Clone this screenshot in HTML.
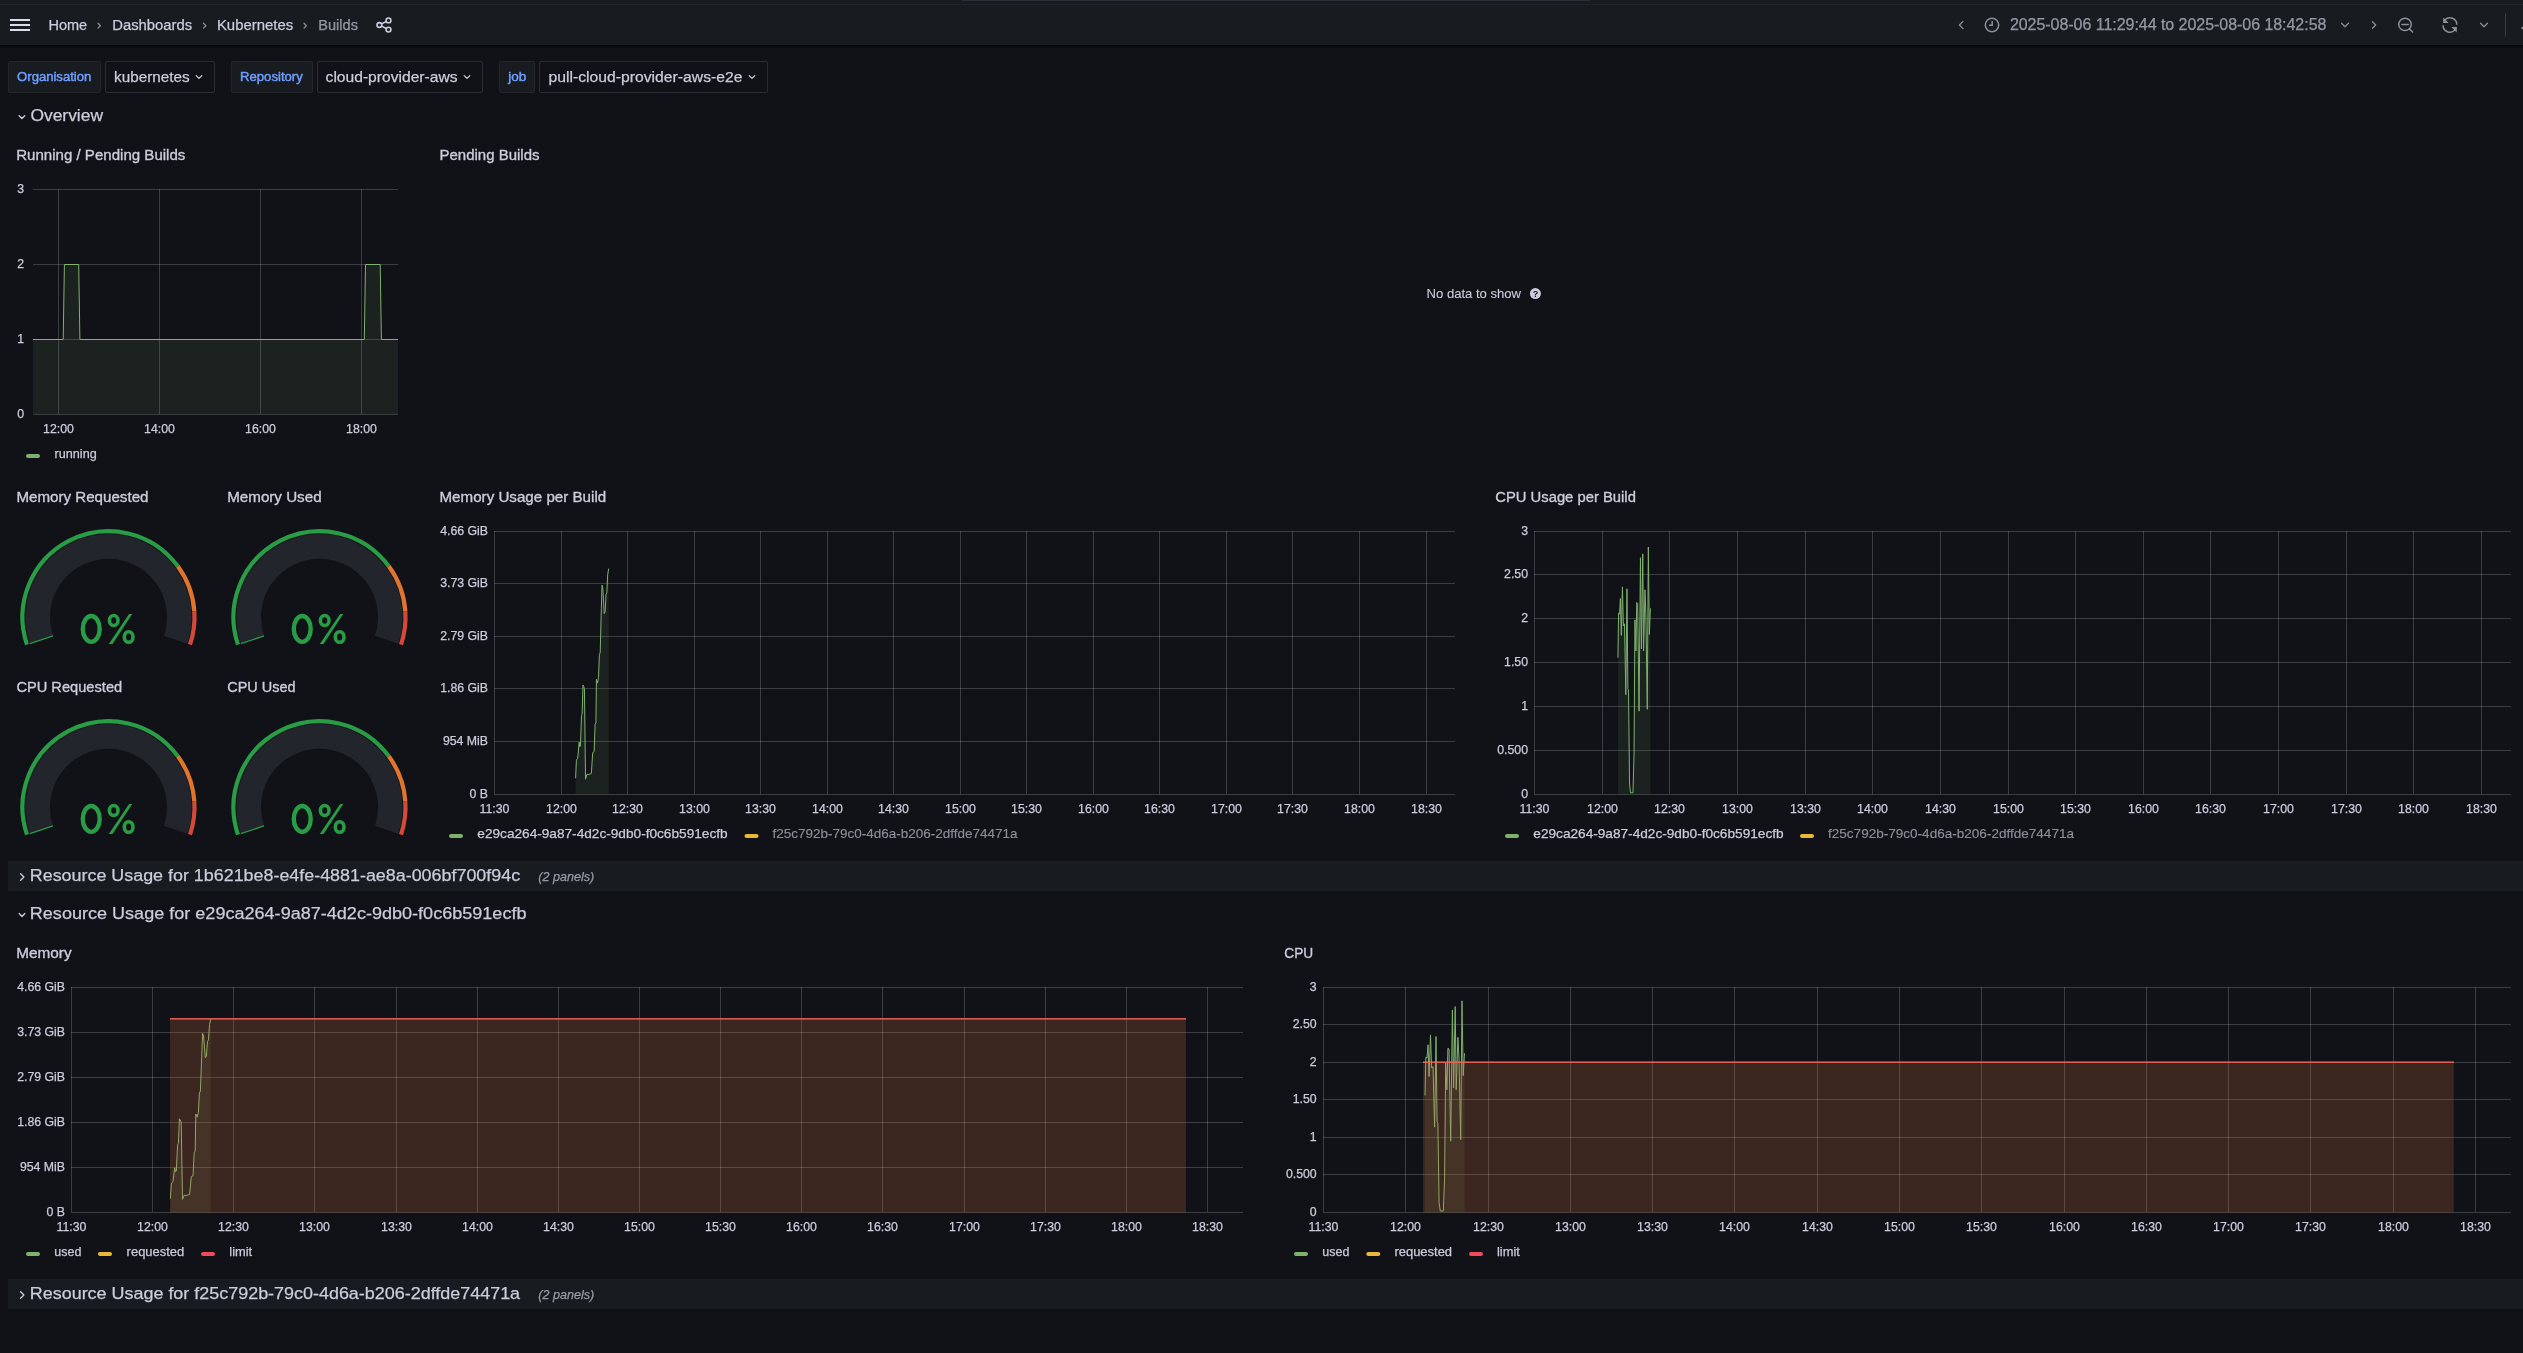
<!DOCTYPE html>
<html><head><meta charset="utf-8"><title>Builds - Grafana</title>
<style>
html,body{margin:0;padding:0;background:#111217;width:2523px;height:1353px;overflow:hidden}
svg{display:block;font-family:"Liberation Sans", sans-serif;will-change:transform}
</style></head><body>
<svg width="2523" height="1353" viewBox="0 0 2523 1353">
<rect x="0" y="0" width="2523" height="45" fill="#181b1f"/>
<rect x="0" y="4" width="2523" height="1" fill="#22252b"/>
<rect x="962" y="0" width="628" height="1" fill="#2c2e38"/>
<rect x="0" y="45" width="2523" height="1" fill="#060709"/>
<rect x="0" y="46" width="2523" height="1" fill="#0a0b0e"/>
<rect x="0" y="47" width="2523" height="1" fill="#0e0f13"/>
<rect x="10" y="19" width="20" height="2" fill="#dcdcea"/>
<rect x="10" y="24" width="20" height="2" fill="#dcdcea"/>
<rect x="10" y="29" width="20" height="2" fill="#dcdcea"/>
<text x="48.4" y="30" font-size="14.9" fill="#ccccdc" text-anchor="start" font-weight="normal" font-style="normal" stroke="#ccccdc" stroke-width="0.25" textLength="38.8" lengthAdjust="spacingAndGlyphs">Home</text>
<text x="112.2" y="30" font-size="14.9" fill="#ccccdc" text-anchor="start" font-weight="normal" font-style="normal" stroke="#ccccdc" stroke-width="0.25" textLength="80" lengthAdjust="spacingAndGlyphs">Dashboards</text>
<text x="216.9" y="30" font-size="14.9" fill="#ccccdc" text-anchor="start" font-weight="normal" font-style="normal" stroke="#ccccdc" stroke-width="0.25" textLength="76.4" lengthAdjust="spacingAndGlyphs">Kubernetes</text>
<text x="318.3" y="30" font-size="14.9" fill="rgba(204,204,220,0.65)" text-anchor="start" font-weight="normal" font-style="normal" stroke="rgba(204,204,220,0.65)" stroke-width="0.25" textLength="39.7" lengthAdjust="spacingAndGlyphs">Builds</text>
<path d="M98 23.3 L100.4 25.7 L98 28.099999999999998" fill="none" stroke="rgba(204,204,220,0.65)" stroke-width="1.3" stroke-linecap="round" stroke-linejoin="round"/>
<path d="M203.5 23.3 L205.9 25.7 L203.5 28.099999999999998" fill="none" stroke="rgba(204,204,220,0.65)" stroke-width="1.3" stroke-linecap="round" stroke-linejoin="round"/>
<path d="M304 23.3 L306.4 25.7 L304 28.099999999999998" fill="none" stroke="rgba(204,204,220,0.65)" stroke-width="1.3" stroke-linecap="round" stroke-linejoin="round"/>
<g fill="none" stroke="#ccccdc" stroke-width="1.6"><circle cx="388.5" cy="20.4" r="2.4"/><circle cx="379.4" cy="25" r="2.4"/><circle cx="388.5" cy="29.6" r="2.4"/><path d="M381.6 23.9 L386.3 21.5 M381.6 26.1 L386.3 28.5"/></g>
<path d="M1963.0 21.4 L1959.4 25 L1963.0 28.6" fill="none" stroke="rgba(204,204,220,0.65)" stroke-width="1.3" stroke-linecap="round" stroke-linejoin="round"/>
<g fill="none" stroke="rgba(204,204,220,0.65)" stroke-width="1.5"><circle cx="1992" cy="25" r="6.7"/><path d="M1992.2 21 V25.2 H1989"/></g>
<text x="2009.9" y="30" font-size="16" fill="rgba(204,204,220,0.65)" text-anchor="start" font-weight="normal" font-style="normal" stroke="rgba(204,204,220,0.65)" stroke-width="0.25" textLength="316.5" lengthAdjust="spacing">2025-08-06 11:29:44 to 2025-08-06 18:42:58</text>
<path d="M2341.5 23.25 L2345 26.75 L2348.5 23.25" fill="none" stroke="rgba(204,204,220,0.65)" stroke-width="1.3" stroke-linecap="round" stroke-linejoin="round"/>
<path d="M2372.5 21.8 L2375.7 25 L2372.5 28.2" fill="none" stroke="rgba(204,204,220,0.65)" stroke-width="1.3" stroke-linecap="round" stroke-linejoin="round"/>
<g fill="none" stroke="rgba(204,204,220,0.65)" stroke-width="1.5"><circle cx="2405" cy="24.4" r="6.2"/><path d="M2402 24.4 H2408.4 M2409.6 29 L2412.6 32" stroke-linecap="round"/></g>
<g fill="none" stroke="rgba(204,204,220,0.65)" stroke-width="1.5"><path d="M2456.8 24.7 A6.9 6.9 0 0 0 2445 19.8 M2443.1 25.2 A6.9 6.9 0 0 0 2455 30.1"/></g><path d="M2443.2 17.4 V22.9 H2448.7 Z M2456.8 32.6 V27.1 H2451.3 Z" fill="rgba(204,204,220,0.65)"/>
<path d="M2480.5 23.25 L2484 26.75 L2487.5 23.25" fill="none" stroke="rgba(204,204,220,0.65)" stroke-width="1.3" stroke-linecap="round" stroke-linejoin="round"/>
<rect x="2505" y="13.5" width="1" height="23" fill="rgba(204,204,220,0.2)"/>
<circle cx="2522.5" cy="28" r="1.2" fill="rgba(204,204,220,0.65)"/>
<rect x="8.5" y="61.5" width="92" height="31" rx="1.5" fill="#181b1f" stroke="rgba(204,204,220,0.09)"/>
<text x="17.1" y="81" font-size="12.6" fill="#6e9fff" text-anchor="start" font-weight="normal" font-style="normal" stroke="#6e9fff" stroke-width="0.45" textLength="74.2" lengthAdjust="spacingAndGlyphs">Organisation</text>
<rect x="105.5" y="61.5" width="109" height="31" rx="1.5" fill="#111217" stroke="rgba(204,204,220,0.15)"/>
<text x="114.1" y="82" font-size="15.3" fill="#ccccdc" text-anchor="start" font-weight="normal" font-style="normal" stroke="#ccccdc" stroke-width="0.25" textLength="75.5" lengthAdjust="spacingAndGlyphs">kubernetes</text>
<path d="M196.2 75.6 L199 78.4 L201.8 75.6" fill="none" stroke="#ccccdc" stroke-width="1.3" stroke-linecap="round" stroke-linejoin="round"/>
<rect x="231.5" y="61.5" width="81" height="31" rx="1.5" fill="#181b1f" stroke="rgba(204,204,220,0.09)"/>
<text x="240" y="81" font-size="12.6" fill="#6e9fff" text-anchor="start" font-weight="normal" font-style="normal" stroke="#6e9fff" stroke-width="0.45" textLength="62.8" lengthAdjust="spacingAndGlyphs">Repository</text>
<rect x="317.5" y="61.5" width="165" height="31" rx="1.5" fill="#111217" stroke="rgba(204,204,220,0.15)"/>
<text x="325.6" y="82" font-size="15.3" fill="#ccccdc" text-anchor="start" font-weight="normal" font-style="normal" stroke="#ccccdc" stroke-width="0.25" textLength="131.9" lengthAdjust="spacingAndGlyphs">cloud-provider-aws</text>
<path d="M464.2 75.6 L467 78.4 L469.8 75.6" fill="none" stroke="#ccccdc" stroke-width="1.3" stroke-linecap="round" stroke-linejoin="round"/>
<rect x="499.5" y="61.5" width="35" height="31" rx="1.5" fill="#181b1f" stroke="rgba(204,204,220,0.09)"/>
<text x="508.2" y="81" font-size="12.6" fill="#6e9fff" text-anchor="start" font-weight="normal" font-style="normal" stroke="#6e9fff" stroke-width="0.45" textLength="18.1" lengthAdjust="spacingAndGlyphs">job</text>
<rect x="539.5" y="61.5" width="228" height="31" rx="1.5" fill="#111217" stroke="rgba(204,204,220,0.15)"/>
<text x="548.5" y="82" font-size="15.3" fill="#ccccdc" text-anchor="start" font-weight="normal" font-style="normal" stroke="#ccccdc" stroke-width="0.25" textLength="194" lengthAdjust="spacingAndGlyphs">pull-cloud-provider-aws-e2e</text>
<path d="M749.2 75.6 L752 78.4 L754.8 75.6" fill="none" stroke="#ccccdc" stroke-width="1.3" stroke-linecap="round" stroke-linejoin="round"/>
<path d="M19.099999999999998 115.8 L21.9 118.60000000000001 L24.7 115.8" fill="none" stroke="#ccccdc" stroke-width="1.4" stroke-linecap="round" stroke-linejoin="round"/>
<text x="30.4" y="121.4" font-size="17.2" fill="#ccccdc" text-anchor="start" font-weight="normal" font-style="normal" stroke="#ccccdc" stroke-width="0.25" textLength="72.6" lengthAdjust="spacingAndGlyphs">Overview</text>
<rect x="8" y="861" width="2515" height="30" fill="#181b1f"/>
<path d="M20.6 873.7 L23.900000000000002 877 L20.6 880.3" fill="none" stroke="#ccccdc" stroke-width="1.3" stroke-linecap="round" stroke-linejoin="round"/>
<text x="29.8" y="881" font-size="17.2" fill="#ccccdc" text-anchor="start" font-weight="normal" font-style="normal" stroke="#ccccdc" stroke-width="0.25" textLength="490.3" lengthAdjust="spacingAndGlyphs">Resource Usage for 1b621be8-e4fe-4881-ae8a-006bf700f94c</text>
<text x="538.3" y="881" font-size="12.6" fill="rgba(204,204,220,0.65)" text-anchor="start" font-weight="normal" font-style="italic" stroke="rgba(204,204,220,0.65)" stroke-width="0.25" >(2 panels)</text>
<path d="M19.2 913.6 L22 916.4 L24.8 913.6" fill="none" stroke="#ccccdc" stroke-width="1.4" stroke-linecap="round" stroke-linejoin="round"/>
<text x="29.8" y="919" font-size="17.2" fill="#ccccdc" text-anchor="start" font-weight="normal" font-style="normal" stroke="#ccccdc" stroke-width="0.25" textLength="496.7" lengthAdjust="spacingAndGlyphs">Resource Usage for e29ca264-9a87-4d2c-9db0-f0c6b591ecfb</text>
<rect x="8" y="1279" width="2515" height="30" fill="#181b1f"/>
<path d="M20.6 1291.7 L23.900000000000002 1295 L20.6 1298.3" fill="none" stroke="#ccccdc" stroke-width="1.3" stroke-linecap="round" stroke-linejoin="round"/>
<text x="29.8" y="1299" font-size="17.2" fill="#ccccdc" text-anchor="start" font-weight="normal" font-style="normal" stroke="#ccccdc" stroke-width="0.25" textLength="490.3" lengthAdjust="spacingAndGlyphs">Resource Usage for f25c792b-79c0-4d6a-b206-2dffde74471a</text>
<text x="538.3" y="1299" font-size="12.6" fill="rgba(204,204,220,0.65)" text-anchor="start" font-weight="normal" font-style="italic" stroke="rgba(204,204,220,0.65)" stroke-width="0.25" >(2 panels)</text>
<text x="16.2" y="160" font-size="15.1" fill="#ccccdc" text-anchor="start" font-weight="normal" font-style="normal" stroke="#ccccdc" stroke-width="0.35" textLength="169.2" lengthAdjust="spacingAndGlyphs">Running / Pending Builds</text>
<text x="439.5" y="160" font-size="15.1" fill="#ccccdc" text-anchor="start" font-weight="normal" font-style="normal" stroke="#ccccdc" stroke-width="0.35" textLength="100" lengthAdjust="spacingAndGlyphs">Pending Builds</text>
<text x="16.4" y="502" font-size="15.1" fill="#ccccdc" text-anchor="start" font-weight="normal" font-style="normal" stroke="#ccccdc" stroke-width="0.35" textLength="132.1" lengthAdjust="spacingAndGlyphs">Memory Requested</text>
<text x="227.2" y="502" font-size="15.1" fill="#ccccdc" text-anchor="start" font-weight="normal" font-style="normal" stroke="#ccccdc" stroke-width="0.35" textLength="94.4" lengthAdjust="spacingAndGlyphs">Memory Used</text>
<text x="16.4" y="692" font-size="15.1" fill="#ccccdc" text-anchor="start" font-weight="normal" font-style="normal" stroke="#ccccdc" stroke-width="0.35" textLength="105.8" lengthAdjust="spacingAndGlyphs">CPU Requested</text>
<text x="227.2" y="692" font-size="15.1" fill="#ccccdc" text-anchor="start" font-weight="normal" font-style="normal" stroke="#ccccdc" stroke-width="0.35" textLength="68.4" lengthAdjust="spacingAndGlyphs">CPU Used</text>
<text x="439.5" y="502" font-size="15.1" fill="#ccccdc" text-anchor="start" font-weight="normal" font-style="normal" stroke="#ccccdc" stroke-width="0.35" textLength="166.7" lengthAdjust="spacingAndGlyphs">Memory Usage per Build</text>
<text x="1495.2" y="502" font-size="15.1" fill="#ccccdc" text-anchor="start" font-weight="normal" font-style="normal" stroke="#ccccdc" stroke-width="0.35" textLength="140.7" lengthAdjust="spacingAndGlyphs">CPU Usage per Build</text>
<text x="16.2" y="958" font-size="15.1" fill="#ccccdc" text-anchor="start" font-weight="normal" font-style="normal" stroke="#ccccdc" stroke-width="0.35" textLength="55.4" lengthAdjust="spacingAndGlyphs">Memory</text>
<text x="1284.3" y="958" font-size="15.1" fill="#ccccdc" text-anchor="start" font-weight="normal" font-style="normal" stroke="#ccccdc" stroke-width="0.35" textLength="28.9" lengthAdjust="spacingAndGlyphs">CPU</text>
<text x="1426.6" y="298" font-size="13" fill="#ccccdc" text-anchor="start" font-weight="normal" font-style="normal" stroke="#ccccdc" stroke-width="0.1" textLength="94.4" lengthAdjust="spacingAndGlyphs">No data to show</text>
<circle cx="1535.4" cy="293.6" r="5.5" fill="#ccccdc"/>
<text x="1535.4" y="297.3" font-size="9" font-weight="bold" fill="#111217" text-anchor="middle">?</text>
<rect x="33" y="189" width="365" height="1" fill="rgba(240,250,255,0.19)"/>
<text x="24" y="193.2" font-size="12.3" fill="#ccccdc" text-anchor="end" font-weight="normal" font-style="normal" stroke="#ccccdc" stroke-width="0.25" >3</text>
<rect x="33" y="264" width="365" height="1" fill="rgba(240,250,255,0.19)"/>
<text x="24" y="268.2" font-size="12.3" fill="#ccccdc" text-anchor="end" font-weight="normal" font-style="normal" stroke="#ccccdc" stroke-width="0.25" >2</text>
<rect x="33" y="339" width="365" height="1" fill="rgba(240,250,255,0.19)"/>
<text x="24" y="343.2" font-size="12.3" fill="#ccccdc" text-anchor="end" font-weight="normal" font-style="normal" stroke="#ccccdc" stroke-width="0.25" >1</text>
<rect x="33" y="414" width="365" height="1" fill="rgba(240,250,255,0.19)"/>
<text x="24" y="418.2" font-size="12.3" fill="#ccccdc" text-anchor="end" font-weight="normal" font-style="normal" stroke="#ccccdc" stroke-width="0.25" >0</text>
<rect x="58" y="189" width="1" height="225" fill="rgba(240,250,255,0.19)"/>
<text x="58.50" y="433" font-size="12.3" fill="#ccccdc" text-anchor="middle" font-weight="normal" font-style="normal" stroke="#ccccdc" stroke-width="0.25" >12:00</text>
<rect x="159" y="189" width="1" height="225" fill="rgba(240,250,255,0.19)"/>
<text x="159.50" y="433" font-size="12.3" fill="#ccccdc" text-anchor="middle" font-weight="normal" font-style="normal" stroke="#ccccdc" stroke-width="0.25" >14:00</text>
<rect x="260" y="189" width="1" height="225" fill="rgba(240,250,255,0.19)"/>
<text x="260.50" y="433" font-size="12.3" fill="#ccccdc" text-anchor="middle" font-weight="normal" font-style="normal" stroke="#ccccdc" stroke-width="0.25" >16:00</text>
<rect x="361" y="189" width="1" height="225" fill="rgba(240,250,255,0.19)"/>
<text x="361.50" y="433" font-size="12.3" fill="#ccccdc" text-anchor="middle" font-weight="normal" font-style="normal" stroke="#ccccdc" stroke-width="0.25" >18:00</text>
<path d="M33.00 339.50 L63.20 339.50 L64.40 264.50 L78.70 264.50 L79.90 339.50 L364.30 339.50 L365.50 264.50 L380.20 264.50 L381.40 339.50 L398.00 339.50 L398 414 L33 414 Z" fill="rgba(126,178,109,0.1)"/>
<path d="M33.00 339.50 L63.20 339.50 L64.40 264.50 L78.70 264.50 L79.90 339.50 L364.30 339.50 L365.50 264.50 L380.20 264.50 L381.40 339.50 L398.00 339.50" fill="none" stroke="#7eb26d" stroke-width="1"/>
<rect x="26" y="454" width="14" height="4" rx="2" fill="#7eb26d"/>
<text x="54.6" y="458" font-size="12.9" fill="#ccccdc" text-anchor="start" font-weight="normal" font-style="normal" stroke="#ccccdc" stroke-width="0.25" textLength="42.1" lengthAdjust="spacingAndGlyphs">running</text>
<rect x="494" y="531" width="961" height="1" fill="rgba(240,250,255,0.19)"/>
<text x="488" y="535.2" font-size="12.3" fill="#ccccdc" text-anchor="end" font-weight="normal" font-style="normal" stroke="#ccccdc" stroke-width="0.25" >4.66 GiB</text>
<rect x="494" y="583" width="961" height="1" fill="rgba(240,250,255,0.19)"/>
<text x="488" y="587.2" font-size="12.3" fill="#ccccdc" text-anchor="end" font-weight="normal" font-style="normal" stroke="#ccccdc" stroke-width="0.25" >3.73 GiB</text>
<rect x="494" y="636" width="961" height="1" fill="rgba(240,250,255,0.19)"/>
<text x="488" y="640.2" font-size="12.3" fill="#ccccdc" text-anchor="end" font-weight="normal" font-style="normal" stroke="#ccccdc" stroke-width="0.25" >2.79 GiB</text>
<rect x="494" y="688" width="961" height="1" fill="rgba(240,250,255,0.19)"/>
<text x="488" y="692.2" font-size="12.3" fill="#ccccdc" text-anchor="end" font-weight="normal" font-style="normal" stroke="#ccccdc" stroke-width="0.25" >1.86 GiB</text>
<rect x="494" y="741" width="961" height="1" fill="rgba(240,250,255,0.19)"/>
<text x="488" y="745.2" font-size="12.3" fill="#ccccdc" text-anchor="end" font-weight="normal" font-style="normal" stroke="#ccccdc" stroke-width="0.25" >954 MiB</text>
<rect x="494" y="794" width="961" height="1" fill="rgba(240,250,255,0.19)"/>
<text x="488" y="798.2" font-size="12.3" fill="#ccccdc" text-anchor="end" font-weight="normal" font-style="normal" stroke="#ccccdc" stroke-width="0.25" >0 B</text>
<rect x="494" y="531" width="1" height="263" fill="rgba(240,250,255,0.19)"/>
<text x="494.50" y="813" font-size="12.3" fill="#ccccdc" text-anchor="middle" font-weight="normal" font-style="normal" stroke="#ccccdc" stroke-width="0.25" >11:30</text>
<rect x="561" y="531" width="1" height="263" fill="rgba(240,250,255,0.19)"/>
<text x="561.50" y="813" font-size="12.3" fill="#ccccdc" text-anchor="middle" font-weight="normal" font-style="normal" stroke="#ccccdc" stroke-width="0.25" >12:00</text>
<rect x="627" y="531" width="1" height="263" fill="rgba(240,250,255,0.19)"/>
<text x="627.50" y="813" font-size="12.3" fill="#ccccdc" text-anchor="middle" font-weight="normal" font-style="normal" stroke="#ccccdc" stroke-width="0.25" >12:30</text>
<rect x="694" y="531" width="1" height="263" fill="rgba(240,250,255,0.19)"/>
<text x="694.50" y="813" font-size="12.3" fill="#ccccdc" text-anchor="middle" font-weight="normal" font-style="normal" stroke="#ccccdc" stroke-width="0.25" >13:00</text>
<rect x="760" y="531" width="1" height="263" fill="rgba(240,250,255,0.19)"/>
<text x="760.50" y="813" font-size="12.3" fill="#ccccdc" text-anchor="middle" font-weight="normal" font-style="normal" stroke="#ccccdc" stroke-width="0.25" >13:30</text>
<rect x="827" y="531" width="1" height="263" fill="rgba(240,250,255,0.19)"/>
<text x="827.50" y="813" font-size="12.3" fill="#ccccdc" text-anchor="middle" font-weight="normal" font-style="normal" stroke="#ccccdc" stroke-width="0.25" >14:00</text>
<rect x="893" y="531" width="1" height="263" fill="rgba(240,250,255,0.19)"/>
<text x="893.50" y="813" font-size="12.3" fill="#ccccdc" text-anchor="middle" font-weight="normal" font-style="normal" stroke="#ccccdc" stroke-width="0.25" >14:30</text>
<rect x="960" y="531" width="1" height="263" fill="rgba(240,250,255,0.19)"/>
<text x="960.50" y="813" font-size="12.3" fill="#ccccdc" text-anchor="middle" font-weight="normal" font-style="normal" stroke="#ccccdc" stroke-width="0.25" >15:00</text>
<rect x="1026" y="531" width="1" height="263" fill="rgba(240,250,255,0.19)"/>
<text x="1026.50" y="813" font-size="12.3" fill="#ccccdc" text-anchor="middle" font-weight="normal" font-style="normal" stroke="#ccccdc" stroke-width="0.25" >15:30</text>
<rect x="1093" y="531" width="1" height="263" fill="rgba(240,250,255,0.19)"/>
<text x="1093.50" y="813" font-size="12.3" fill="#ccccdc" text-anchor="middle" font-weight="normal" font-style="normal" stroke="#ccccdc" stroke-width="0.25" >16:00</text>
<rect x="1159" y="531" width="1" height="263" fill="rgba(240,250,255,0.19)"/>
<text x="1159.50" y="813" font-size="12.3" fill="#ccccdc" text-anchor="middle" font-weight="normal" font-style="normal" stroke="#ccccdc" stroke-width="0.25" >16:30</text>
<rect x="1226" y="531" width="1" height="263" fill="rgba(240,250,255,0.19)"/>
<text x="1226.50" y="813" font-size="12.3" fill="#ccccdc" text-anchor="middle" font-weight="normal" font-style="normal" stroke="#ccccdc" stroke-width="0.25" >17:00</text>
<rect x="1292" y="531" width="1" height="263" fill="rgba(240,250,255,0.19)"/>
<text x="1292.50" y="813" font-size="12.3" fill="#ccccdc" text-anchor="middle" font-weight="normal" font-style="normal" stroke="#ccccdc" stroke-width="0.25" >17:30</text>
<rect x="1359" y="531" width="1" height="263" fill="rgba(240,250,255,0.19)"/>
<text x="1359.50" y="813" font-size="12.3" fill="#ccccdc" text-anchor="middle" font-weight="normal" font-style="normal" stroke="#ccccdc" stroke-width="0.25" >18:00</text>
<rect x="1426" y="531" width="1" height="263" fill="rgba(240,250,255,0.19)"/>
<text x="1426.50" y="813" font-size="12.3" fill="#ccccdc" text-anchor="middle" font-weight="normal" font-style="normal" stroke="#ccccdc" stroke-width="0.25" >18:30</text>
<path d="M575.59 778.25 L576.41 760.13 L577.73 758.26 L579.12 742.13 L579.78 746.81 L580.43 745.99 L581.50 715.48 L582.15 713.61 L582.97 684.98 L583.71 686.49 L584.45 688.72 L585.52 779.19 L586.83 774.40 L589.04 774.40 L591.34 773.46 L592.73 752.54 L594.13 751.60 L595.11 724.02 L595.93 723.08 L596.42 679.36 L597.49 683.10 L598.55 677.38 L599.37 654.58 L600.19 652.71 L601.34 608.88 L602.00 585.15 L602.82 587.96 L604.21 613.67 L605.11 611.80 L606.01 594.62 L606.83 592.75 L607.65 574.63 L608.72 568.55 L608.72 794.5 L575.59 794.5 Z" fill="rgba(126,178,109,0.1)"/>
<path d="M575.59 778.25 L576.41 760.13 L577.73 758.26 L579.12 742.13 L579.78 746.81 L580.43 745.99 L581.50 715.48 L582.15 713.61 L582.97 684.98 L583.71 686.49 L584.45 688.72 L585.52 779.19 L586.83 774.40 L589.04 774.40 L591.34 773.46 L592.73 752.54 L594.13 751.60 L595.11 724.02 L595.93 723.08 L596.42 679.36 L597.49 683.10 L598.55 677.38 L599.37 654.58 L600.19 652.71 L601.34 608.88 L602.00 585.15 L602.82 587.96 L604.21 613.67 L605.11 611.80 L606.01 594.62 L606.83 592.75 L607.65 574.63 L608.72 568.55" fill="none" stroke="#7eb26d" stroke-width="1"/>
<rect x="449" y="834" width="14" height="4" rx="2" fill="#7eb26d"/>
<text x="477.3" y="838" font-size="12.9" fill="#ccccdc" text-anchor="start" font-weight="normal" font-style="normal" stroke="#ccccdc" stroke-width="0.25" textLength="250.3" lengthAdjust="spacingAndGlyphs">e29ca264-9a87-4d2c-9db0-f0c6b591ecfb</text>
<rect x="744.5" y="834" width="14" height="4" rx="2" fill="#eab839"/>
<text x="772.5" y="838" font-size="12.9" fill="rgba(204,204,220,0.65)" text-anchor="start" font-weight="normal" font-style="normal" stroke="rgba(204,204,220,0.65)" stroke-width="0.1" textLength="245" lengthAdjust="spacingAndGlyphs">f25c792b-79c0-4d6a-b206-2dffde74471a</text>
<rect x="1534" y="531" width="977" height="1" fill="rgba(240,250,255,0.19)"/>
<text x="1528" y="535.2" font-size="12.3" fill="#ccccdc" text-anchor="end" font-weight="normal" font-style="normal" stroke="#ccccdc" stroke-width="0.25" >3</text>
<rect x="1534" y="574" width="977" height="1" fill="rgba(240,250,255,0.19)"/>
<text x="1528" y="578.2" font-size="12.3" fill="#ccccdc" text-anchor="end" font-weight="normal" font-style="normal" stroke="#ccccdc" stroke-width="0.25" >2.50</text>
<rect x="1534" y="618" width="977" height="1" fill="rgba(240,250,255,0.19)"/>
<text x="1528" y="622.2" font-size="12.3" fill="#ccccdc" text-anchor="end" font-weight="normal" font-style="normal" stroke="#ccccdc" stroke-width="0.25" >2</text>
<rect x="1534" y="662" width="977" height="1" fill="rgba(240,250,255,0.19)"/>
<text x="1528" y="666.2" font-size="12.3" fill="#ccccdc" text-anchor="end" font-weight="normal" font-style="normal" stroke="#ccccdc" stroke-width="0.25" >1.50</text>
<rect x="1534" y="706" width="977" height="1" fill="rgba(240,250,255,0.19)"/>
<text x="1528" y="710.2" font-size="12.3" fill="#ccccdc" text-anchor="end" font-weight="normal" font-style="normal" stroke="#ccccdc" stroke-width="0.25" >1</text>
<rect x="1534" y="750" width="977" height="1" fill="rgba(240,250,255,0.19)"/>
<text x="1528" y="754.2" font-size="12.3" fill="#ccccdc" text-anchor="end" font-weight="normal" font-style="normal" stroke="#ccccdc" stroke-width="0.25" >0.500</text>
<rect x="1534" y="794" width="977" height="1" fill="rgba(240,250,255,0.19)"/>
<text x="1528" y="798.2" font-size="12.3" fill="#ccccdc" text-anchor="end" font-weight="normal" font-style="normal" stroke="#ccccdc" stroke-width="0.25" >0</text>
<rect x="1534" y="531" width="1" height="263" fill="rgba(240,250,255,0.19)"/>
<text x="1534.50" y="813" font-size="12.3" fill="#ccccdc" text-anchor="middle" font-weight="normal" font-style="normal" stroke="#ccccdc" stroke-width="0.25" >11:30</text>
<rect x="1602" y="531" width="1" height="263" fill="rgba(240,250,255,0.19)"/>
<text x="1602.50" y="813" font-size="12.3" fill="#ccccdc" text-anchor="middle" font-weight="normal" font-style="normal" stroke="#ccccdc" stroke-width="0.25" >12:00</text>
<rect x="1669" y="531" width="1" height="263" fill="rgba(240,250,255,0.19)"/>
<text x="1669.50" y="813" font-size="12.3" fill="#ccccdc" text-anchor="middle" font-weight="normal" font-style="normal" stroke="#ccccdc" stroke-width="0.25" >12:30</text>
<rect x="1737" y="531" width="1" height="263" fill="rgba(240,250,255,0.19)"/>
<text x="1737.50" y="813" font-size="12.3" fill="#ccccdc" text-anchor="middle" font-weight="normal" font-style="normal" stroke="#ccccdc" stroke-width="0.25" >13:00</text>
<rect x="1805" y="531" width="1" height="263" fill="rgba(240,250,255,0.19)"/>
<text x="1805.50" y="813" font-size="12.3" fill="#ccccdc" text-anchor="middle" font-weight="normal" font-style="normal" stroke="#ccccdc" stroke-width="0.25" >13:30</text>
<rect x="1872" y="531" width="1" height="263" fill="rgba(240,250,255,0.19)"/>
<text x="1872.50" y="813" font-size="12.3" fill="#ccccdc" text-anchor="middle" font-weight="normal" font-style="normal" stroke="#ccccdc" stroke-width="0.25" >14:00</text>
<rect x="1940" y="531" width="1" height="263" fill="rgba(240,250,255,0.19)"/>
<text x="1940.50" y="813" font-size="12.3" fill="#ccccdc" text-anchor="middle" font-weight="normal" font-style="normal" stroke="#ccccdc" stroke-width="0.25" >14:30</text>
<rect x="2008" y="531" width="1" height="263" fill="rgba(240,250,255,0.19)"/>
<text x="2008.50" y="813" font-size="12.3" fill="#ccccdc" text-anchor="middle" font-weight="normal" font-style="normal" stroke="#ccccdc" stroke-width="0.25" >15:00</text>
<rect x="2075" y="531" width="1" height="263" fill="rgba(240,250,255,0.19)"/>
<text x="2075.50" y="813" font-size="12.3" fill="#ccccdc" text-anchor="middle" font-weight="normal" font-style="normal" stroke="#ccccdc" stroke-width="0.25" >15:30</text>
<rect x="2143" y="531" width="1" height="263" fill="rgba(240,250,255,0.19)"/>
<text x="2143.50" y="813" font-size="12.3" fill="#ccccdc" text-anchor="middle" font-weight="normal" font-style="normal" stroke="#ccccdc" stroke-width="0.25" >16:00</text>
<rect x="2210" y="531" width="1" height="263" fill="rgba(240,250,255,0.19)"/>
<text x="2210.50" y="813" font-size="12.3" fill="#ccccdc" text-anchor="middle" font-weight="normal" font-style="normal" stroke="#ccccdc" stroke-width="0.25" >16:30</text>
<rect x="2278" y="531" width="1" height="263" fill="rgba(240,250,255,0.19)"/>
<text x="2278.50" y="813" font-size="12.3" fill="#ccccdc" text-anchor="middle" font-weight="normal" font-style="normal" stroke="#ccccdc" stroke-width="0.25" >17:00</text>
<rect x="2346" y="531" width="1" height="263" fill="rgba(240,250,255,0.19)"/>
<text x="2346.50" y="813" font-size="12.3" fill="#ccccdc" text-anchor="middle" font-weight="normal" font-style="normal" stroke="#ccccdc" stroke-width="0.25" >17:30</text>
<rect x="2413" y="531" width="1" height="263" fill="rgba(240,250,255,0.19)"/>
<text x="2413.50" y="813" font-size="12.3" fill="#ccccdc" text-anchor="middle" font-weight="normal" font-style="normal" stroke="#ccccdc" stroke-width="0.25" >18:00</text>
<rect x="2481" y="531" width="1" height="263" fill="rgba(240,250,255,0.19)"/>
<text x="2481.50" y="813" font-size="12.3" fill="#ccccdc" text-anchor="middle" font-weight="normal" font-style="normal" stroke="#ccccdc" stroke-width="0.25" >18:30</text>
<path d="M1617.93 657.74 L1618.59 613.09 L1619.57 613.91 L1620.40 598.48 L1621.30 635.41 L1622.45 586.91 L1623.36 625.71 L1624.51 623.84 L1625.82 694.68 L1626.97 588.78 L1627.88 688.83 L1628.53 689.88 L1629.52 783.04 L1630.51 792.75 L1632.97 792.75 L1634.04 753.94 L1634.94 619.87 L1635.93 650.96 L1636.75 602.45 L1637.66 603.39 L1639.05 711.16 L1640.45 557.68 L1641.44 648.97 L1642.75 553.83 L1643.58 650.96 L1644.97 589.83 L1645.88 613.91 L1647.27 709.29 L1648.34 547.05 L1649.33 634.48 L1650.40 608.30 L1650.40 794.5 L1617.93 794.5 Z" fill="rgba(126,178,109,0.1)"/>
<path d="M1617.93 657.74 L1618.59 613.09 L1619.57 613.91 L1620.40 598.48 L1621.30 635.41 L1622.45 586.91 L1623.36 625.71 L1624.51 623.84 L1625.82 694.68 L1626.97 588.78 L1627.88 688.83 L1628.53 689.88 L1629.52 783.04 L1630.51 792.75 L1632.97 792.75 L1634.04 753.94 L1634.94 619.87 L1635.93 650.96 L1636.75 602.45 L1637.66 603.39 L1639.05 711.16 L1640.45 557.68 L1641.44 648.97 L1642.75 553.83 L1643.58 650.96 L1644.97 589.83 L1645.88 613.91 L1647.27 709.29 L1648.34 547.05 L1649.33 634.48 L1650.40 608.30" fill="none" stroke="#7eb26d" stroke-width="1"/>
<rect x="1505" y="834" width="14" height="4" rx="2" fill="#7eb26d"/>
<text x="1533.3" y="838" font-size="12.9" fill="#ccccdc" text-anchor="start" font-weight="normal" font-style="normal" stroke="#ccccdc" stroke-width="0.25" textLength="250.3" lengthAdjust="spacingAndGlyphs">e29ca264-9a87-4d2c-9db0-f0c6b591ecfb</text>
<rect x="1800" y="834" width="14" height="4" rx="2" fill="#eab839"/>
<text x="1828" y="838" font-size="12.9" fill="rgba(204,204,220,0.65)" text-anchor="start" font-weight="normal" font-style="normal" stroke="rgba(204,204,220,0.65)" stroke-width="0.1" textLength="246" lengthAdjust="spacingAndGlyphs">f25c792b-79c0-4d6a-b206-2dffde74471a</text>
<rect x="71" y="987" width="1172" height="1" fill="rgba(240,250,255,0.19)"/>
<text x="65" y="991.2" font-size="12.3" fill="#ccccdc" text-anchor="end" font-weight="normal" font-style="normal" stroke="#ccccdc" stroke-width="0.25" >4.66 GiB</text>
<rect x="71" y="1032" width="1172" height="1" fill="rgba(240,250,255,0.19)"/>
<text x="65" y="1036.2" font-size="12.3" fill="#ccccdc" text-anchor="end" font-weight="normal" font-style="normal" stroke="#ccccdc" stroke-width="0.25" >3.73 GiB</text>
<rect x="71" y="1077" width="1172" height="1" fill="rgba(240,250,255,0.19)"/>
<text x="65" y="1081.2" font-size="12.3" fill="#ccccdc" text-anchor="end" font-weight="normal" font-style="normal" stroke="#ccccdc" stroke-width="0.25" >2.79 GiB</text>
<rect x="71" y="1122" width="1172" height="1" fill="rgba(240,250,255,0.19)"/>
<text x="65" y="1126.2" font-size="12.3" fill="#ccccdc" text-anchor="end" font-weight="normal" font-style="normal" stroke="#ccccdc" stroke-width="0.25" >1.86 GiB</text>
<rect x="71" y="1167" width="1172" height="1" fill="rgba(240,250,255,0.19)"/>
<text x="65" y="1171.2" font-size="12.3" fill="#ccccdc" text-anchor="end" font-weight="normal" font-style="normal" stroke="#ccccdc" stroke-width="0.25" >954 MiB</text>
<rect x="71" y="1212" width="1172" height="1" fill="rgba(240,250,255,0.19)"/>
<text x="65" y="1216.2" font-size="12.3" fill="#ccccdc" text-anchor="end" font-weight="normal" font-style="normal" stroke="#ccccdc" stroke-width="0.25" >0 B</text>
<rect x="71" y="987" width="1" height="225" fill="rgba(240,250,255,0.19)"/>
<text x="71.50" y="1231" font-size="12.3" fill="#ccccdc" text-anchor="middle" font-weight="normal" font-style="normal" stroke="#ccccdc" stroke-width="0.25" >11:30</text>
<rect x="152" y="987" width="1" height="225" fill="rgba(240,250,255,0.19)"/>
<text x="152.50" y="1231" font-size="12.3" fill="#ccccdc" text-anchor="middle" font-weight="normal" font-style="normal" stroke="#ccccdc" stroke-width="0.25" >12:00</text>
<rect x="233" y="987" width="1" height="225" fill="rgba(240,250,255,0.19)"/>
<text x="233.50" y="1231" font-size="12.3" fill="#ccccdc" text-anchor="middle" font-weight="normal" font-style="normal" stroke="#ccccdc" stroke-width="0.25" >12:30</text>
<rect x="314" y="987" width="1" height="225" fill="rgba(240,250,255,0.19)"/>
<text x="314.50" y="1231" font-size="12.3" fill="#ccccdc" text-anchor="middle" font-weight="normal" font-style="normal" stroke="#ccccdc" stroke-width="0.25" >13:00</text>
<rect x="396" y="987" width="1" height="225" fill="rgba(240,250,255,0.19)"/>
<text x="396.50" y="1231" font-size="12.3" fill="#ccccdc" text-anchor="middle" font-weight="normal" font-style="normal" stroke="#ccccdc" stroke-width="0.25" >13:30</text>
<rect x="477" y="987" width="1" height="225" fill="rgba(240,250,255,0.19)"/>
<text x="477.50" y="1231" font-size="12.3" fill="#ccccdc" text-anchor="middle" font-weight="normal" font-style="normal" stroke="#ccccdc" stroke-width="0.25" >14:00</text>
<rect x="558" y="987" width="1" height="225" fill="rgba(240,250,255,0.19)"/>
<text x="558.50" y="1231" font-size="12.3" fill="#ccccdc" text-anchor="middle" font-weight="normal" font-style="normal" stroke="#ccccdc" stroke-width="0.25" >14:30</text>
<rect x="639" y="987" width="1" height="225" fill="rgba(240,250,255,0.19)"/>
<text x="639.50" y="1231" font-size="12.3" fill="#ccccdc" text-anchor="middle" font-weight="normal" font-style="normal" stroke="#ccccdc" stroke-width="0.25" >15:00</text>
<rect x="720" y="987" width="1" height="225" fill="rgba(240,250,255,0.19)"/>
<text x="720.50" y="1231" font-size="12.3" fill="#ccccdc" text-anchor="middle" font-weight="normal" font-style="normal" stroke="#ccccdc" stroke-width="0.25" >15:30</text>
<rect x="801" y="987" width="1" height="225" fill="rgba(240,250,255,0.19)"/>
<text x="801.50" y="1231" font-size="12.3" fill="#ccccdc" text-anchor="middle" font-weight="normal" font-style="normal" stroke="#ccccdc" stroke-width="0.25" >16:00</text>
<rect x="882" y="987" width="1" height="225" fill="rgba(240,250,255,0.19)"/>
<text x="882.50" y="1231" font-size="12.3" fill="#ccccdc" text-anchor="middle" font-weight="normal" font-style="normal" stroke="#ccccdc" stroke-width="0.25" >16:30</text>
<rect x="964" y="987" width="1" height="225" fill="rgba(240,250,255,0.19)"/>
<text x="964.50" y="1231" font-size="12.3" fill="#ccccdc" text-anchor="middle" font-weight="normal" font-style="normal" stroke="#ccccdc" stroke-width="0.25" >17:00</text>
<rect x="1045" y="987" width="1" height="225" fill="rgba(240,250,255,0.19)"/>
<text x="1045.50" y="1231" font-size="12.3" fill="#ccccdc" text-anchor="middle" font-weight="normal" font-style="normal" stroke="#ccccdc" stroke-width="0.25" >17:30</text>
<rect x="1126" y="987" width="1" height="225" fill="rgba(240,250,255,0.19)"/>
<text x="1126.50" y="1231" font-size="12.3" fill="#ccccdc" text-anchor="middle" font-weight="normal" font-style="normal" stroke="#ccccdc" stroke-width="0.25" >18:00</text>
<rect x="1207" y="987" width="1" height="225" fill="rgba(240,250,255,0.19)"/>
<text x="1207.50" y="1231" font-size="12.3" fill="#ccccdc" text-anchor="middle" font-weight="normal" font-style="normal" stroke="#ccccdc" stroke-width="0.25" >18:30</text>
<path d="M170.40 1198.60 L171.40 1183.10 L173.00 1181.50 L174.70 1167.70 L175.50 1171.70 L176.30 1171.00 L177.60 1144.90 L178.40 1143.30 L179.40 1118.80 L180.30 1120.10 L181.20 1122.00 L182.50 1199.40 L184.10 1195.30 L186.80 1195.30 L189.60 1194.50 L191.30 1176.60 L193.00 1175.80 L194.20 1152.20 L195.20 1151.40 L195.80 1114.00 L197.10 1117.20 L198.40 1112.30 L199.40 1092.80 L200.40 1091.20 L201.80 1053.70 L202.60 1033.40 L203.60 1035.80 L205.30 1057.80 L206.40 1056.20 L207.50 1041.50 L208.50 1039.90 L209.50 1024.40 L210.80 1019.20 L210.8 1212.5 L170.4 1212.5 Z" fill="rgba(126,178,109,0.1)"/>
<path d="M170.40 1198.60 L171.40 1183.10 L173.00 1181.50 L174.70 1167.70 L175.50 1171.70 L176.30 1171.00 L177.60 1144.90 L178.40 1143.30 L179.40 1118.80 L180.30 1120.10 L181.20 1122.00 L182.50 1199.40 L184.10 1195.30 L186.80 1195.30 L189.60 1194.50 L191.30 1176.60 L193.00 1175.80 L194.20 1152.20 L195.20 1151.40 L195.80 1114.00 L197.10 1117.20 L198.40 1112.30 L199.40 1092.80 L200.40 1091.20 L201.80 1053.70 L202.60 1033.40 L203.60 1035.80 L205.30 1057.80 L206.40 1056.20 L207.50 1041.50 L208.50 1039.90 L209.50 1024.40 L210.80 1019.20" fill="none" stroke="#7eb26d" stroke-width="1"/>
<rect x="170" y="1018.8" width="1016" height="193.70000000000005" fill="rgba(234,184,57,0.1)"/>
<rect x="170" y="1018.3" width="1016" height="1" fill="#eab839"/>
<rect x="170" y="1018.8" width="1016" height="193.70000000000005" fill="rgba(242,73,92,0.1)"/>
<rect x="170" y="1018.3" width="1016" height="1" fill="#f2495c"/>
<rect x="26" y="1252" width="14" height="4" rx="2" fill="#7eb26d"/>
<text x="54.3" y="1256" font-size="12.9" fill="#ccccdc" text-anchor="start" font-weight="normal" font-style="normal" stroke="#ccccdc" stroke-width="0.25" textLength="27.1" lengthAdjust="spacingAndGlyphs">used</text>
<rect x="98" y="1252" width="14" height="4" rx="2" fill="#eab839"/>
<text x="126.6" y="1256" font-size="12.9" fill="#ccccdc" text-anchor="start" font-weight="normal" font-style="normal" stroke="#ccccdc" stroke-width="0.25" textLength="57.7" lengthAdjust="spacingAndGlyphs">requested</text>
<rect x="201" y="1252" width="14" height="4" rx="2" fill="#f2495c"/>
<text x="229.3" y="1256" font-size="12.9" fill="#ccccdc" text-anchor="start" font-weight="normal" font-style="normal" stroke="#ccccdc" stroke-width="0.25" textLength="22.9" lengthAdjust="spacingAndGlyphs">limit</text>
<rect x="1323" y="987" width="1188" height="1" fill="rgba(240,250,255,0.19)"/>
<text x="1316.7" y="991.2" font-size="12.3" fill="#ccccdc" text-anchor="end" font-weight="normal" font-style="normal" stroke="#ccccdc" stroke-width="0.25" >3</text>
<rect x="1323" y="1024" width="1188" height="1" fill="rgba(240,250,255,0.19)"/>
<text x="1316.7" y="1028.2" font-size="12.3" fill="#ccccdc" text-anchor="end" font-weight="normal" font-style="normal" stroke="#ccccdc" stroke-width="0.25" >2.50</text>
<rect x="1323" y="1062" width="1188" height="1" fill="rgba(240,250,255,0.19)"/>
<text x="1316.7" y="1066.2" font-size="12.3" fill="#ccccdc" text-anchor="end" font-weight="normal" font-style="normal" stroke="#ccccdc" stroke-width="0.25" >2</text>
<rect x="1323" y="1099" width="1188" height="1" fill="rgba(240,250,255,0.19)"/>
<text x="1316.7" y="1103.2" font-size="12.3" fill="#ccccdc" text-anchor="end" font-weight="normal" font-style="normal" stroke="#ccccdc" stroke-width="0.25" >1.50</text>
<rect x="1323" y="1137" width="1188" height="1" fill="rgba(240,250,255,0.19)"/>
<text x="1316.7" y="1141.2" font-size="12.3" fill="#ccccdc" text-anchor="end" font-weight="normal" font-style="normal" stroke="#ccccdc" stroke-width="0.25" >1</text>
<rect x="1323" y="1174" width="1188" height="1" fill="rgba(240,250,255,0.19)"/>
<text x="1316.7" y="1178.2" font-size="12.3" fill="#ccccdc" text-anchor="end" font-weight="normal" font-style="normal" stroke="#ccccdc" stroke-width="0.25" >0.500</text>
<rect x="1323" y="1212" width="1188" height="1" fill="rgba(240,250,255,0.19)"/>
<text x="1316.7" y="1216.2" font-size="12.3" fill="#ccccdc" text-anchor="end" font-weight="normal" font-style="normal" stroke="#ccccdc" stroke-width="0.25" >0</text>
<rect x="1323" y="987" width="1" height="225" fill="rgba(240,250,255,0.19)"/>
<text x="1323.50" y="1231" font-size="12.3" fill="#ccccdc" text-anchor="middle" font-weight="normal" font-style="normal" stroke="#ccccdc" stroke-width="0.25" >11:30</text>
<rect x="1405" y="987" width="1" height="225" fill="rgba(240,250,255,0.19)"/>
<text x="1405.50" y="1231" font-size="12.3" fill="#ccccdc" text-anchor="middle" font-weight="normal" font-style="normal" stroke="#ccccdc" stroke-width="0.25" >12:00</text>
<rect x="1488" y="987" width="1" height="225" fill="rgba(240,250,255,0.19)"/>
<text x="1488.50" y="1231" font-size="12.3" fill="#ccccdc" text-anchor="middle" font-weight="normal" font-style="normal" stroke="#ccccdc" stroke-width="0.25" >12:30</text>
<rect x="1570" y="987" width="1" height="225" fill="rgba(240,250,255,0.19)"/>
<text x="1570.50" y="1231" font-size="12.3" fill="#ccccdc" text-anchor="middle" font-weight="normal" font-style="normal" stroke="#ccccdc" stroke-width="0.25" >13:00</text>
<rect x="1652" y="987" width="1" height="225" fill="rgba(240,250,255,0.19)"/>
<text x="1652.50" y="1231" font-size="12.3" fill="#ccccdc" text-anchor="middle" font-weight="normal" font-style="normal" stroke="#ccccdc" stroke-width="0.25" >13:30</text>
<rect x="1734" y="987" width="1" height="225" fill="rgba(240,250,255,0.19)"/>
<text x="1734.50" y="1231" font-size="12.3" fill="#ccccdc" text-anchor="middle" font-weight="normal" font-style="normal" stroke="#ccccdc" stroke-width="0.25" >14:00</text>
<rect x="1817" y="987" width="1" height="225" fill="rgba(240,250,255,0.19)"/>
<text x="1817.50" y="1231" font-size="12.3" fill="#ccccdc" text-anchor="middle" font-weight="normal" font-style="normal" stroke="#ccccdc" stroke-width="0.25" >14:30</text>
<rect x="1899" y="987" width="1" height="225" fill="rgba(240,250,255,0.19)"/>
<text x="1899.50" y="1231" font-size="12.3" fill="#ccccdc" text-anchor="middle" font-weight="normal" font-style="normal" stroke="#ccccdc" stroke-width="0.25" >15:00</text>
<rect x="1981" y="987" width="1" height="225" fill="rgba(240,250,255,0.19)"/>
<text x="1981.50" y="1231" font-size="12.3" fill="#ccccdc" text-anchor="middle" font-weight="normal" font-style="normal" stroke="#ccccdc" stroke-width="0.25" >15:30</text>
<rect x="2064" y="987" width="1" height="225" fill="rgba(240,250,255,0.19)"/>
<text x="2064.50" y="1231" font-size="12.3" fill="#ccccdc" text-anchor="middle" font-weight="normal" font-style="normal" stroke="#ccccdc" stroke-width="0.25" >16:00</text>
<rect x="2146" y="987" width="1" height="225" fill="rgba(240,250,255,0.19)"/>
<text x="2146.50" y="1231" font-size="12.3" fill="#ccccdc" text-anchor="middle" font-weight="normal" font-style="normal" stroke="#ccccdc" stroke-width="0.25" >16:30</text>
<rect x="2228" y="987" width="1" height="225" fill="rgba(240,250,255,0.19)"/>
<text x="2228.50" y="1231" font-size="12.3" fill="#ccccdc" text-anchor="middle" font-weight="normal" font-style="normal" stroke="#ccccdc" stroke-width="0.25" >17:00</text>
<rect x="2310" y="987" width="1" height="225" fill="rgba(240,250,255,0.19)"/>
<text x="2310.50" y="1231" font-size="12.3" fill="#ccccdc" text-anchor="middle" font-weight="normal" font-style="normal" stroke="#ccccdc" stroke-width="0.25" >17:30</text>
<rect x="2393" y="987" width="1" height="225" fill="rgba(240,250,255,0.19)"/>
<text x="2393.50" y="1231" font-size="12.3" fill="#ccccdc" text-anchor="middle" font-weight="normal" font-style="normal" stroke="#ccccdc" stroke-width="0.25" >18:00</text>
<rect x="2475" y="987" width="1" height="225" fill="rgba(240,250,255,0.19)"/>
<text x="2475.50" y="1231" font-size="12.3" fill="#ccccdc" text-anchor="middle" font-weight="normal" font-style="normal" stroke="#ccccdc" stroke-width="0.25" >18:30</text>
<path d="M1425.00 1095.50 L1425.80 1057.30 L1427.00 1058.00 L1428.00 1044.80 L1429.10 1076.40 L1430.50 1034.90 L1431.60 1068.10 L1433.00 1066.50 L1434.60 1127.10 L1436.00 1036.50 L1437.10 1122.10 L1437.90 1123.00 L1439.10 1202.70 L1440.30 1211.00 L1443.30 1211.00 L1444.60 1177.80 L1445.70 1063.10 L1446.90 1089.70 L1447.90 1048.20 L1449.00 1049.00 L1450.70 1141.20 L1452.40 1009.90 L1453.60 1088.00 L1455.20 1006.60 L1456.20 1089.70 L1457.90 1037.40 L1459.00 1058.00 L1460.70 1139.60 L1462.00 1000.80 L1463.20 1075.60 L1464.50 1053.20 L1464.5 1212.5 L1425 1212.5 Z" fill="rgba(126,178,109,0.1)"/>
<path d="M1425.00 1095.50 L1425.80 1057.30 L1427.00 1058.00 L1428.00 1044.80 L1429.10 1076.40 L1430.50 1034.90 L1431.60 1068.10 L1433.00 1066.50 L1434.60 1127.10 L1436.00 1036.50 L1437.10 1122.10 L1437.90 1123.00 L1439.10 1202.70 L1440.30 1211.00 L1443.30 1211.00 L1444.60 1177.80 L1445.70 1063.10 L1446.90 1089.70 L1447.90 1048.20 L1449.00 1049.00 L1450.70 1141.20 L1452.40 1009.90 L1453.60 1088.00 L1455.20 1006.60 L1456.20 1089.70 L1457.90 1037.40 L1459.00 1058.00 L1460.70 1139.60 L1462.00 1000.80 L1463.20 1075.60 L1464.50 1053.20" fill="none" stroke="#7eb26d" stroke-width="1"/>
<rect x="1423" y="1062.2" width="1030.8000000000002" height="150.29999999999995" fill="rgba(234,184,57,0.1)"/>
<rect x="1423" y="1061.7" width="1030.8000000000002" height="1" fill="#eab839"/>
<rect x="1423" y="1062.2" width="1030.8000000000002" height="150.29999999999995" fill="rgba(242,73,92,0.1)"/>
<rect x="1423" y="1061.7" width="1030.8000000000002" height="1" fill="#f2495c"/>
<rect x="1294" y="1252" width="14" height="4" rx="2" fill="#7eb26d"/>
<text x="1322.3" y="1256" font-size="12.9" fill="#ccccdc" text-anchor="start" font-weight="normal" font-style="normal" stroke="#ccccdc" stroke-width="0.25" textLength="27.1" lengthAdjust="spacingAndGlyphs">used</text>
<rect x="1366.3" y="1252" width="14" height="4" rx="2" fill="#eab839"/>
<text x="1394.4" y="1256" font-size="12.9" fill="#ccccdc" text-anchor="start" font-weight="normal" font-style="normal" stroke="#ccccdc" stroke-width="0.25" textLength="57.7" lengthAdjust="spacingAndGlyphs">requested</text>
<rect x="1469" y="1252" width="14" height="4" rx="2" fill="#f2495c"/>
<text x="1497" y="1256" font-size="12.9" fill="#ccccdc" text-anchor="start" font-weight="normal" font-style="normal" stroke="#ccccdc" stroke-width="0.25" textLength="22.9" lengthAdjust="spacingAndGlyphs">limit</text>
<path d="M41.40 639.78 A70.8 70.8 0 1 1 175.60 639.78" fill="none" stroke="#22252b" stroke-width="24.6"/>
<path d="M26.99 644.63 A86 86 0 0 1 177.81 566.29" fill="none" stroke="#299c46" stroke-width="4.2"/>
<path d="M177.81 566.29 A86 86 0 0 1 194.29 611.20" fill="none" stroke="#e0752d" stroke-width="4.2"/>
<path d="M194.29 611.20 A86 86 0 0 1 190.01 644.63" fill="none" stroke="#d44a3a" stroke-width="4.2"/>
<path d="M53.06 635.86 L29.84 643.67" stroke="#299c46" stroke-width="1.2"/>
<ellipse cx="91.25" cy="628.90" rx="8.45" ry="12.95" fill="none" stroke="#299c46" stroke-width="4.4"/>
<ellipse cx="113.70" cy="620.45" rx="4.3" ry="5.0" fill="none" stroke="#299c46" stroke-width="3.6"/>
<ellipse cx="128.65" cy="637.00" rx="4.35" ry="5.3" fill="none" stroke="#299c46" stroke-width="3.6"/>
<path d="M108.80 644.00 L112.50 644.00 L132.30 614.10 L129.10 614.10 Z" fill="#299c46"/>
<path d="M252.40 639.78 A70.8 70.8 0 1 1 386.60 639.78" fill="none" stroke="#22252b" stroke-width="24.6"/>
<path d="M237.99 644.63 A86 86 0 0 1 388.81 566.29" fill="none" stroke="#299c46" stroke-width="4.2"/>
<path d="M388.81 566.29 A86 86 0 0 1 405.29 611.20" fill="none" stroke="#e0752d" stroke-width="4.2"/>
<path d="M405.29 611.20 A86 86 0 0 1 401.01 644.63" fill="none" stroke="#d44a3a" stroke-width="4.2"/>
<path d="M264.06 635.86 L240.84 643.67" stroke="#299c46" stroke-width="1.2"/>
<ellipse cx="302.25" cy="628.90" rx="8.45" ry="12.95" fill="none" stroke="#299c46" stroke-width="4.4"/>
<ellipse cx="324.70" cy="620.45" rx="4.3" ry="5.0" fill="none" stroke="#299c46" stroke-width="3.6"/>
<ellipse cx="339.65" cy="637.00" rx="4.35" ry="5.3" fill="none" stroke="#299c46" stroke-width="3.6"/>
<path d="M319.80 644.00 L323.50 644.00 L343.30 614.10 L340.10 614.10 Z" fill="#299c46"/>
<path d="M41.40 829.78 A70.8 70.8 0 1 1 175.60 829.78" fill="none" stroke="#22252b" stroke-width="24.6"/>
<path d="M26.99 834.63 A86 86 0 0 1 177.81 756.29" fill="none" stroke="#299c46" stroke-width="4.2"/>
<path d="M177.81 756.29 A86 86 0 0 1 194.29 801.20" fill="none" stroke="#e0752d" stroke-width="4.2"/>
<path d="M194.29 801.20 A86 86 0 0 1 190.01 834.63" fill="none" stroke="#d44a3a" stroke-width="4.2"/>
<path d="M53.06 825.86 L29.84 833.67" stroke="#299c46" stroke-width="1.2"/>
<ellipse cx="91.25" cy="818.90" rx="8.45" ry="12.95" fill="none" stroke="#299c46" stroke-width="4.4"/>
<ellipse cx="113.70" cy="810.45" rx="4.3" ry="5.0" fill="none" stroke="#299c46" stroke-width="3.6"/>
<ellipse cx="128.65" cy="827.00" rx="4.35" ry="5.3" fill="none" stroke="#299c46" stroke-width="3.6"/>
<path d="M108.80 834.00 L112.50 834.00 L132.30 804.10 L129.10 804.10 Z" fill="#299c46"/>
<path d="M252.40 829.78 A70.8 70.8 0 1 1 386.60 829.78" fill="none" stroke="#22252b" stroke-width="24.6"/>
<path d="M237.99 834.63 A86 86 0 0 1 388.81 756.29" fill="none" stroke="#299c46" stroke-width="4.2"/>
<path d="M388.81 756.29 A86 86 0 0 1 405.29 801.20" fill="none" stroke="#e0752d" stroke-width="4.2"/>
<path d="M405.29 801.20 A86 86 0 0 1 401.01 834.63" fill="none" stroke="#d44a3a" stroke-width="4.2"/>
<path d="M264.06 825.86 L240.84 833.67" stroke="#299c46" stroke-width="1.2"/>
<ellipse cx="302.25" cy="818.90" rx="8.45" ry="12.95" fill="none" stroke="#299c46" stroke-width="4.4"/>
<ellipse cx="324.70" cy="810.45" rx="4.3" ry="5.0" fill="none" stroke="#299c46" stroke-width="3.6"/>
<ellipse cx="339.65" cy="827.00" rx="4.35" ry="5.3" fill="none" stroke="#299c46" stroke-width="3.6"/>
<path d="M319.80 834.00 L323.50 834.00 L343.30 804.10 L340.10 804.10 Z" fill="#299c46"/>
</svg>
</body></html>
